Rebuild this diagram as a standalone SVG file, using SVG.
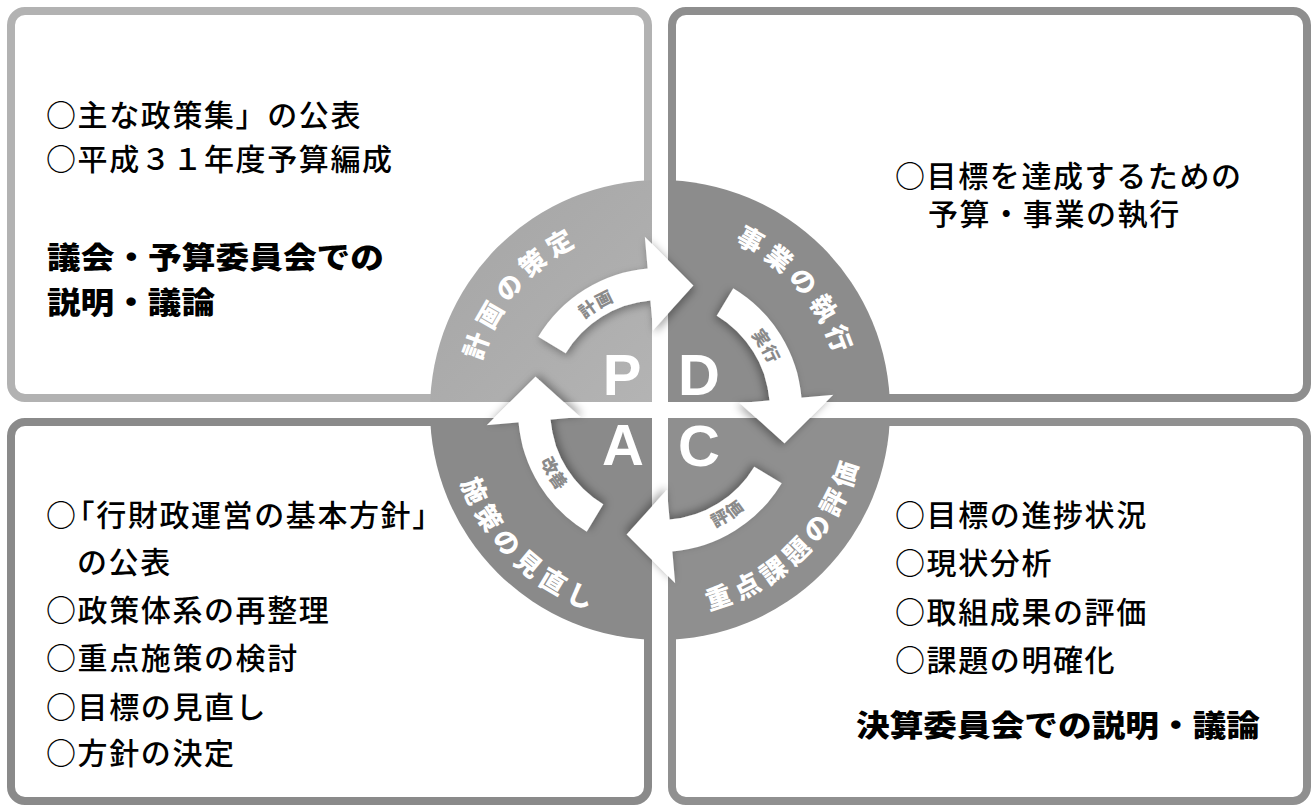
<svg xmlns="http://www.w3.org/2000/svg" width="1314" height="809" viewBox="0 0 1314 809">
<defs>
<style>
.box{fill:#fff;stroke-width:8}
.t{font-family:'Noto Sans CJK JP','Noto Sans CJK SC',sans-serif;font-size:30px;font-weight:500;fill:#000;letter-spacing:1.6px}
.b{font-family:'Noto Sans CJK JP','Noto Sans CJK SC',sans-serif;font-size:30px;font-weight:900;fill:#000}
.ring{font-family:'Noto Sans CJK JP','Noto Sans CJK SC',sans-serif;font-size:26px;font-weight:900;fill:#fff;letter-spacing:6px}
.al{font-family:'Noto Sans CJK JP','Noto Sans CJK SC',sans-serif;font-size:17px;font-weight:900;fill:#8a8a8a;letter-spacing:1px}
.pdca{font-family:'Liberation Sans',Arial,sans-serif;font-size:58px;font-weight:700;fill:#fff;text-anchor:middle}
.arr{fill:#fff;filter:url(#sh)}
</style>
<filter id="sh" x="-30%" y="-30%" width="160%" height="160%">
<feDropShadow dx="2" dy="3" stdDeviation="4" flood-color="#000" flood-opacity="0.35"/>
</filter>
<linearGradient id="gTL" x1="0" y1="0" x2="1" y2="1">
<stop offset="0" stop-color="#a4a4a4"/>
<stop offset="1" stop-color="#b4b4b4"/>
</linearGradient>
<path id="arrow" d="M538.28,336.86 A142,142 0 0 1 647.62,268.54 L644.83,236.66 L693.39,285.40 L653.03,330.30 L650.41,300.42 A110,110 0 0 0 565.71,353.35 Z"/>
<path id="pA" d="M486.16,473.27 A185,185 0 0 1 692.13,227.81"/>
<path id="pB" d="M625.08,230.36 A183,183 0 0 1 833.03,469.58"/>
<path id="pC" d="M572.94,596.70 A206,206 0 0 0 846.70,322.94"/>
<path id="pD" d="M466.33,323.77 A212,212 0 0 0 752.93,600.54"/>
<path id="lA" d="M542.02,412.06 A118,118 0 0 1 717.21,306.79"/>
<path id="lB" d="M657.94,292.02 A118,118 0 0 1 763.21,467.21"/>
<path id="lC" d="M600.98,525.83 A130,130 0 0 0 789.82,403.20"/>
<path id="lD" d="M546.30,346.97 A130,130 0 0 0 662.27,539.98"/>
</defs>
<rect width="1314" height="809" fill="#fff"/>

<g id="box-plan">
<rect class="box" x="11" y="11" width="637" height="387" rx="14" stroke="#b2b2b2"/>
</g>
<g id="box-do">
<rect class="box" x="672" y="11" width="635" height="387" rx="14" stroke="#8e8e8e"/>
</g>
<g id="box-act">
<rect class="box" x="11" y="422" width="637" height="379" rx="14" stroke="#8a8a8a"/>
</g>
<g id="box-check">
<rect class="box" x="672" y="422" width="635" height="379" rx="14" stroke="#909090"/>
</g>

<g id="cycle">
<g id="q-plan"><path d="M660,410 L430,410 A230,230 0 0 1 660,180 Z" fill="url(#gTL)"/></g>
<g id="q-do"><path d="M660,410 L660,180 A230,230 0 0 1 890,410 Z" fill="#8c8c8c"/></g>
<g id="q-check"><path d="M660,410 L890,410 A230,230 0 0 1 660,640 Z" fill="#8f8f8f"/></g>
<g id="q-act"><path d="M660,410 L660,640 A230,230 0 0 1 430,410 Z" fill="#8a8a8a"/></g>
<rect x="652" y="177" width="16" height="466" fill="#fff"/>
<rect x="427" y="402" width="466" height="16" fill="#fff"/>
<text class="pdca" x="622" y="395">P</text>
<text class="pdca" x="699" y="395">D</text>
<text class="pdca" x="623" y="465">A</text>
<text class="pdca" x="699" y="466">C</text>
<text class="ring"><textPath href="#pA" startOffset="50%" text-anchor="middle">計画の策定</textPath></text>
<text class="ring"><textPath href="#pB" startOffset="50%" text-anchor="middle">事業の執行</textPath></text>
<text class="ring"><textPath href="#pC" startOffset="50%" text-anchor="middle">重点課題の評価</textPath></text>
<text class="ring"><textPath href="#pD" startOffset="50%" text-anchor="middle">施策の見直し</textPath></text>
</g>

<g id="connectors">
<use class="arr" href="#arrow"/>
<use class="arr" href="#arrow" transform="rotate(90 660 410)"/>
<use class="arr" href="#arrow" transform="rotate(180 660 410)"/>
<use class="arr" href="#arrow" transform="rotate(270 660 410)"/>
<text class="al"><textPath href="#lA" startOffset="50%" text-anchor="middle">計画</textPath></text>
<text class="al"><textPath href="#lB" startOffset="50%" text-anchor="middle">実行</textPath></text>
<text class="al"><textPath href="#lC" startOffset="50%" text-anchor="middle">評価</textPath></text>
<text class="al"><textPath href="#lD" startOffset="50%" text-anchor="middle">改善</textPath></text>
</g>

<g id="text-plan">
<text class="t" x="46" y="126">○主な政策集」の公表</text>
<text class="t" x="46" y="170">○平成３１年度予算編成</text>
<text class="b" x="47" y="268" textLength="337" lengthAdjust="spacingAndGlyphs">議会・予算委員会での</text>
<text class="b" x="47" y="313" textLength="168" lengthAdjust="spacingAndGlyphs">説明・議論</text>
</g>
<g id="text-do">
<text class="t" x="895" y="187">○目標を達成するための</text>
<text class="t" x="928" y="225">予算・事業の執行</text>
</g>
<g id="text-act">
<text class="t" x="46" y="526">○<tspan dx="-13">「行財政運営の基本方針」</tspan></text>
<text class="t" x="77" y="573">の公表</text>
<text class="t" x="46" y="621">○政策体系の再整理</text>
<text class="t" x="46" y="669">○重点施策の検討</text>
<text class="t" x="46" y="718">○目標の見直し</text>
<text class="t" x="46" y="764">○方針の決定</text>
</g>
<g id="text-check">
<text class="t" x="895" y="526">○目標の進捗状況</text>
<text class="t" x="895" y="574">○現状分析</text>
<text class="t" x="895" y="623">○取組成果の評価</text>
<text class="t" x="895" y="671">○課題の明確化</text>
<text class="b" x="856" y="736" textLength="404" lengthAdjust="spacingAndGlyphs">決算委員会での説明・議論</text>
</g>
</svg>
